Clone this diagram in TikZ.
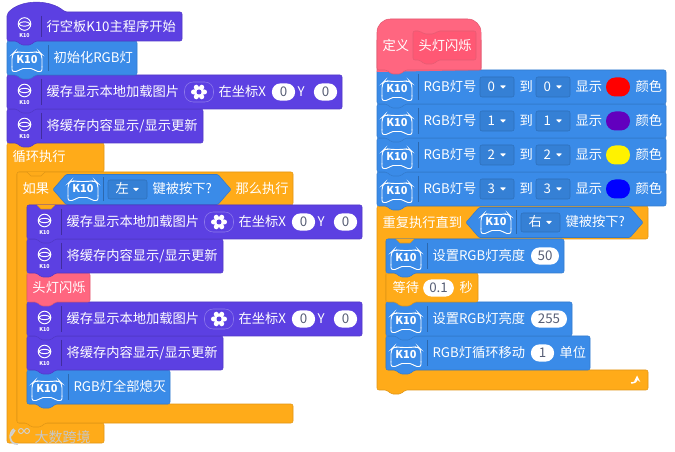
\documentclass[tikz,border=0pt]{standalone}
\usepackage{fontspec}
\setmainfont{Noto Sans CJK SC}
\definecolor{kpurple}{RGB}{92,64,226}
\definecolor{kblue}{RGB}{58,139,232}
\definecolor{korange}{RGB}{255,171,25}
\definecolor{kpink}{RGB}{255,102,128}
\definecolor{kpinkdark}{RGB}{255,88,116}
\definecolor{kviolet}{RGB}{98,0,190}
\definecolor{pilltext}{RGB}{87,94,117}
\tikzset{every picture/.style={line width=0.75pt},
  blockbody/.style={draw=#1!88!black,line width=0.4pt,fill=#1,rounded corners=1.5pt},
  blocktext/.style={text=white,font=\fontsize{9.95}{12}\selectfont,inner sep=0pt,anchor=west,text height=8.5pt,text depth=2.2pt},
  valuepill/.style={fill=white,rounded corners=6.3pt,minimum height=12.9pt,inner sep=0pt,text=pilltext,font=\fontsize{10}{12}\selectfont},
  menubox/.style={draw=kblue!80!black,fill=kblue!92!black,line width=0.4pt,rounded corners=1.5pt},
  sepline/.style={line width=0.5pt},
}
% block with its bump: fill, x, y, width, height
\newcommand{\stackblock}[5]{
  \draw[blockbody=#1,shift={(#2,#3)}] (0,0) -- (#4,0) -- (#4,#5) -- (28,#5) -- (24,#5+4) -- (14,#5+4) -- (10,#5) -- (0,#5) -- cycle;
}
\newcommand{\stackbump}[3]{
  \draw[draw=#1!88!black,line width=0.4pt,fill=#1,shift={(#2,#3)}] (10,0) -- (14,4) -- (24,4) -- (28,0);
}
% K10 board icon: x, y of its centre
\newcommand{\boardicon}[3]{
  \begin{scope}[shift={(#2,#3)},white,line width=0.7pt]
    \draw[rounded corners=3pt] (-15,6) -- (-15,-7) -- (-12,-10) -- (-6,-9) -- (6,-9) -- (12,-10) -- (15,-7) -- (15,6);
    \draw[rounded corners=1.5pt] (-15,5) -- (-15,10) -- (-9,10) -- (-6,7) -- (6,7) -- (9,10) -- (15,10) -- (15,5);
    \node[text=white,inner sep=0pt,font=\bfseries\fontsize{8.2}{9}\selectfont] (#1) at (0,-2) {K10};
  \end{scope}
}
% round icon of the screen blocks
\newcommand{\ringicon}[3]{
  \begin{scope}[shift={(#2,#3)},white,line width=0.7pt]
    \draw (0,0) circle (6.3);
    \draw (-6,0) .. controls (-3,-3) and (3,-3) .. (6,0) .. controls (3,3) and (-3,3) .. (-6,0);
    \node[text=white,inner sep=0pt,font=\itshape\bfseries\fontsize{4}{5}\selectfont] (#1) at (0,12) {K10};
  \end{scope}
}
\newcommand{\gearicon}[2]{
  \begin{scope}[shift={(#1,#2)}]
    \draw[kpurple!70!white,line width=0.4pt,rounded corners=6.5pt] (-14.5,-10) rectangle (14.5,10);
    \fill[white] (0,0) circle (5.5);
    \foreach \lobe in {0,60,...,300} {\fill[white] (\lobe:5.5) circle (2.5);}
    \fill[kpurple] (0,0) circle (2.5);
  \end{scope}
}
\newcommand{\menuarrow}[2]{\fill[white,rounded corners=0.4pt,shift={(#1,#2)}] (-3,-1.5) -- (3,-1.5) -- (0,1.8) -- cycle;}
\newcommand{\ringblock}[4]{% name, x, y, width
  \stackblock{kpurple}{#2}{#3}{#4}{34}
  \ringicon{#1icon}{#2+17.5}{#3+15.5}
  \draw[kpurple!70!black,sepline] (#2+34.5,#3+4) -- (#2+34.5,#3+30);
}
\newcommand{\cacheblock}[3]{% name, x, y
  \ringblock{#1}{#2}{#3}{335}
  \node[blocktext] (#1txt) at (#2+39,#3+17) {缓存显示本地加载图片};
  \gearicon{#2+192}{#3+17}
  \node[blocktext] (#1at) at (#2+211,#3+17) {在坐标X};
  \node[valuepill,minimum width=17.4pt] (#1x) at (#2+276.5,#3+17) {0};
  \node[blocktext] (#1y) at (#2+290,#3+17) {Y};
  \node[valuepill,minimum width=17.4pt] (#1yv) at (#2+318.5,#3+17) {0};
}
\newcommand{\flushblock}[3]{% name, x, y
  \ringblock{#1}{#2}{#3}{196}
  \node[blocktext] (#1txt) at (#2+39,#3+17) {将缓存内容显示/显示更新};
}
\newcommand{\boardblock}[5]{% name, x, y, width, text
  \stackblock{kblue}{#2}{#3}{#4}{34}
  \boardicon{#1icon}{#2+20}{#3+20.5}
  \draw[kblue!75!black,sepline] (#2+41,#3+4) -- (#2+41,#3+30);
  \node[blocktext] (#1txt) at (#2+46,#3+17) {#5};
}
\newcommand{\rgbrow}[4]{% name, y, number, colour
  \boardblock{#1}{377}{#2}{289}{RGB灯号}
  \draw[menubox] (480,#2+7) rectangle (514,#2+27);
  \node[blocktext] (#1from) at (487,#2+17) {#3};
  \menuarrow{503}{#2+17}
  \node[blocktext] (#1to) at (519,#2+17) {到};
  \draw[menubox] (536,#2+7) rectangle (570,#2+27);
  \node[blocktext] (#1end) at (543,#2+17) {#3};
  \menuarrow{559}{#2+17}
  \node[blocktext] (#1show) at (575,#2+17) {显示};
  \fill[#4,rounded corners=7pt] (606,#2+7.5) rectangle (630,#2+26.5);
  \node[blocktext] (#1col) at (635,#2+17) {颜色};
}
% key test hexagon: name, left tip, right tip, centre y, key
\newcommand{\keytest}[5]{
  \draw[blockbody=kblue,rounded corners=0.8pt] (#2,#4) -- (#2+13,#4-15) -- (#3-13,#4-15) -- (#3,#4) -- (#3-13,#4+15) -- (#2+13,#4+15) -- cycle;
  \boardicon{#1icon}{#2+30}{#4+1}
  \draw[kblue!75!black,sepline] (#2+50,#4-12) -- (#2+50,#4+12);
  \draw[menubox] (#2+55,#4-9.5) rectangle (#2+94,#4+9.5);
  \node[blocktext] (#1key) at (#2+62,#4) {#5};
  \menuarrow{#2+83}{#4}
  \node[blocktext] (#1txt) at (#2+99,#4) {键被按下?};
}

\begin{document}
\begin{tikzpicture}[x=0.75pt,y=0.75pt,yscale=-1,xscale=1]
	\useasboundingbox (0,0) rectangle (675,452);
	\fill[white] (0,0) rectangle (675,452);

	% Left stack: loop and if
	\draw[blockbody=korange] (7,143) -- (104,143) -- (104,172) -- (17,172) -- (17,423) -- (104,423) -- (104,443) -- (7,443) -- cycle;
	\draw[blockbody=korange] (17,172) -- (293,172) -- (293,205) -- (27,205) -- (27,404) -- (293,404) -- (293,423) -- (45,423) -- (41,427) -- (31,427) -- (27,423) -- (17,423) -- cycle;
	\node[blocktext] (looptxt) at (12,157) {循环执行};
	\node[blocktext] (iftxt) at (22,189) {如果};
	\keytest{leftkey}{53}{231}{189.5}{左}
	\node[blocktext] (thentxt) at (235,189) {那么执行};

	% Blocks inside the if
	\boardblock{ledoff}{27}{370}{143}{RGB灯全部熄灭}
	\flushblock{flushc}{27}{336}
	\cacheblock{cachec}{27}{302}
	\stackblock{kpink}{27}{273}{63}{29}
	\node[blocktext] (blinkcall) at (32,288) {头灯闪烁};
	\flushblock{flushb}{27}{239}
	\cacheblock{cacheb}{27}{205}
	\stackbump{korange}{27}{205}
	\stackbump{korange}{17}{172}

	% Blocks at the top
	\flushblock{flusha}{7}{109}
	\cacheblock{cachea}{7}{75}
	\boardblock{ledinit}{7}{41}{130}{初始化RGB灯}
	\draw[blockbody=kpurple] (7,41) -- (7,14) .. controls (20,-1) and (50,-1) .. (65,12) -- (182,12) -- (182,41) -- (35,41) -- (31,45) -- (21,45) -- (17,41) -- cycle;
	\ringicon{starticon}{24.5}{24}
	\draw[kpurple!70!black,sepline] (41.5,16) -- (41.5,37);
	\node[blocktext] (starttxt) at (46,27) {行空板K10主程序开始};

	% Right stack: repeat until
	\draw[blockbody=korange] (377,206) -- (648,206) -- (648,239) -- (386,239) -- (386,370) -- (648,370) -- (648,390) -- (405,390) -- (401,394) -- (391,394) -- (387,390) -- (377,390) -- cycle;
	\node[blocktext] (repeattxt) at (382,223) {重复执行直到};
	\keytest{rightkey}{466}{643}{222.5}{右}
	\draw[white,line width=1.1pt,-stealth] (631,383) .. controls (635,383) and (637,381) .. (637,375.5);

	% Blocks inside the repeat
	\boardblock{ledmove}{386}{336}{204}{RGB灯循环移动}
	\node[valuepill,minimum width=17.4pt] (movepill) at (542.5,353) {1};
	\node[blocktext] (unittxt) at (559,353) {单位};
	\boardblock{ledhigh}{386}{302}{186}{设置RGB灯亮度}
	\node[valuepill,minimum width=27pt] (highpill) at (549,319) {255};
	\stackblock{korange}{386}{273}{92}{29}
	\node[blocktext] (waittxt) at (392,288) {等待};
	\node[valuepill,minimum width=23pt] (waitpill) at (438.5,288) {0.1};
	\node[blocktext] (sectxt) at (459,288) {秒};
	\boardblock{ledlow}{386}{239}{178}{设置RGB灯亮度}
	\node[valuepill,minimum width=21pt] (lowpill) at (545,256) {50};
	\stackbump{korange}{386}{239}

	% RGB rows
	\rgbrow{rowd}{172}{3}{blue}
	\rgbrow{rowc}{138}{2}{yellow}
	\rgbrow{rowb}{104}{1}{kviolet}
	\rgbrow{rowa}{70}{0}{red}

	% Define hat
	\draw[blockbody=kpink,rounded corners=10pt] (377,72) -- (377,19) -- (481,19) -- (481,70);
	\fill[kpink] (378,30) rectangle (481,70);
	\draw[blockbody=kpink] (377,40) -- (377,70) -- (387,70) -- (391,74) -- (401,74) -- (405,70) -- (481,70) -- (481,40);
	\node[blocktext] (definetxt) at (382,46) {定义};
	\draw[blockbody=kpinkdark,draw=kpink!90!black] (413,31) -- (420,31) -- (424,34) -- (434,34) -- (438,31) -- (476,31) -- (476,60) -- (438,60) -- (434,64) -- (424,64) -- (420,60) -- (413,60) -- cycle;
	\node[blocktext] (blinkname) at (418,46) {头灯闪烁};

	% Watermark
	\node[blocktext,text=black!22,font=\fontsize{10.5}{12}\selectfont] (marktxt) at (34,438) {大数跨境};
	\draw[black!18,line width=1.3pt] (14,429) .. controls (8,433) and (9,445) .. (18,444);
	\draw[black!18,line width=1.3pt] (11,436) -- (15,430);
	\draw[black!18,line width=0.7pt] (21,431) circle (2.5) (27,431) circle (2.5);
\end{tikzpicture}
\end{document}
